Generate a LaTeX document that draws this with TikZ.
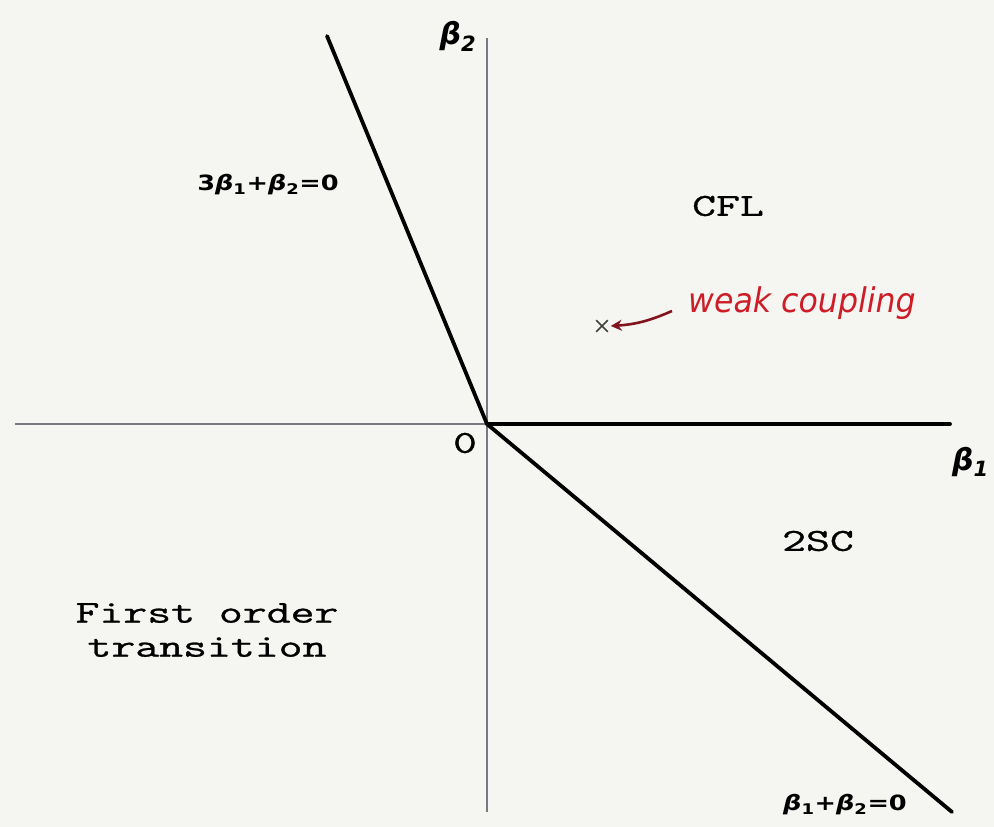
\documentclass[tikz,border=0pt]{standalone}
\usepackage{fontspec}
\newfontfamily\labfont{DejaVu Sans}
\newfontfamily\handfont{DejaVu Sans}
\newfontfamily\regfont[FakeBold=0.8]{Latin Modern Mono}
\usetikzlibrary{arrows.meta,shapes.misc}
\definecolor{bg}{RGB}{245,245,242}
\definecolor{axisgray}{RGB}{120,120,130}
\definecolor{hand}{RGB}{205,30,40}
\definecolor{arrowred}{RGB}{130,20,30}
\newcommand\bb{{\itshape β}}
\begin{document}
\begin{tikzpicture}[x=1pt,y=-1pt,
  region/.style={font=\regfont\fontsize{32}{40}\selectfont, xscale=1.45, inner sep=0, align=center},
  eqlabel/.style={font=\labfont\bfseries\fontsize{21}{24}\selectfont, xscale=1.22, inner sep=0},
  axlabel/.style={font=\labfont\bfseries\itshape\fontsize{30}{34}\selectfont, inner sep=0},
  phase/.style={line width=3.8pt, black, line cap=round},
  axisline/.style={line width=1.4pt, axisgray}]
\fill[bg] (0,0) rectangle (994,827);
\useasboundingbox (0,0) rectangle (994,827);
\coordinate (O) at (487,424);
\coordinate (xl) at (15,424);
\coordinate (xr) at (950,424);
\coordinate (yt) at (487,38);
\coordinate (yb) at (487,812);
\coordinate (tl) at (327,36);
\coordinate (br) at (952,812);
\draw[axisline] (xl) -- (O);
\draw[axisline] (yt) -- (yb);
\draw[phase] (O) -- (xr);
\draw[phase] (tl) -- (O);
\draw[phase] (O) -- (br);
\node[axlabel, anchor=center] (b2) at (458,36) {β\textsubscript{2}};
\node[axlabel, anchor=west] (b1) at (952,462) {β\textsubscript{1}};
\node[region] (zero) at (465,443) {0};
\node[region] (cfl) at (728,206) {CFL};
\node[region] (tsc) at (818,541) {2SC};
\node[region] (first) at (207,630) {First order\\[-6pt]transition};
\node[eqlabel] (eq1) at (268,185) {3\bb\textsubscript{1}+\bb\textsubscript{2}=0};
\node[eqlabel] (eq2) at (845,805) {\bb\textsubscript{1}+\bb\textsubscript{2}=0};
\node[cross out, draw=black!75, line width=1.6pt, minimum size=10pt, inner sep=0] (wc) at (602,326) {};
\node[font=\handfont\itshape\fontsize{34}{38}\selectfont, text=hand, anchor=west, inner sep=0, xscale=0.93] (weak) at (688,303) {weak coupling};
\draw[arrowred, line width=2.6pt, -{Stealth[length=11pt,width=11pt]}] (weak.west) ++(-16,8) to[bend left=10] ([xshift=3pt]wc.east);
\end{tikzpicture}
\end{document}
